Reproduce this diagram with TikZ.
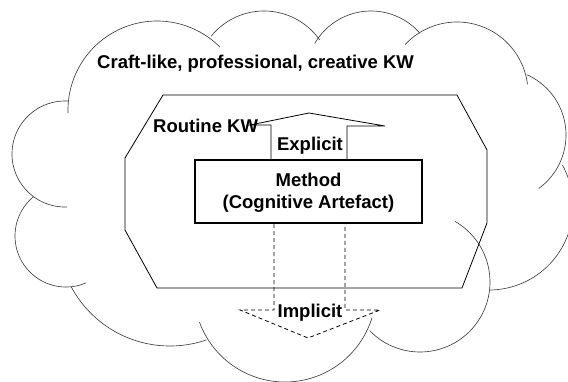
\documentclass[tikz,border=0pt]{standalone}
\usepackage{fontspec}
\setmainfont{Liberation Sans}
\usetikzlibrary{calc}
\tikzset{
  cloudline/.style={draw=black!75, line width=0.65pt},
  octo/.style={draw=black, line width=0.8pt, line join=miter},
  blockarrow/.style={draw=black, line width=0.8pt, line join=miter},
  dashline/.style={dash pattern=on 4pt off 3pt},
  lbl/.style={font=\bfseries\fontsize{18.5}{22}\selectfont, inner sep=0pt},
  methodbox/.style={draw=black, line width=2pt, minimum width=227pt, minimum height=63pt, inner sep=0pt},
  methodtext/.style={align=center, inner sep=0pt, font=\bfseries\fontsize{18.5}{22}\selectfont}
}
\begin{document}
\begin{tikzpicture}[x=1pt,y=-1pt]
\path[use as bounding box] (0,0) rectangle (568,381);
\clip (0,0) rectangle (568,381);
% cloud lobes: centre x / centre y / radius / start angle / end angle
\foreach \cx/\cy/\r/\a/\b in {
  157/110/89/178/315,
  264/79/68/219/325,
  371/76/65/210/319,
  457/93/71/223/353,
  500/135/66/294/414,
  489/206/84/-29/89,
  420/282/70/-60/136,
  285/291/91/17/160,
  170/234/112/71/152,
  66/236/51/67/230,
  65/154/53/88/273}
  \draw[cloudline] plot[domain=\a:\b, samples=80] ({\cx+\r*cos(\x)},{\cy+\r*sin(\x)});
% routine KW region (octagon)
\draw[octo] (163,95) -- (457,95) -- (487,150) -- (487,223) -- (462,288)
  -- (157,288) -- (125,230) -- (125,158) -- cycle;
% method box
\node[methodbox] (method) at (308.5,191.5) {};
\node[methodtext] (methodlabel) at (308.5,192.7) {Method\\(Cognitive Artefact)};
% explicit arrow (up)
\draw[blockarrow] ([xshift=-37.5pt]method.north) -- ++(0,-34) -- (250,125)
  -- (309,113) -- (385,126) -- (347,126) -- ([xshift=38.5pt]method.north);
% implicit arrow (down, dashed)
\draw[blockarrow, dashline] ([xshift=-34.5pt]method.south) -- (274,310) -- (240,310)
  -- (308,338) -- (380,310) -- (345,310) -- ([xshift=36.5pt]method.south);
% labels
\node[lbl, anchor=base west] (craft) at (97,68.5) {Craft-like, professional, creative KW};
\node[lbl, anchor=base west] (routine) at (153,132) {Routine KW};
\node[lbl, anchor=base] (explicit) at (310,150.5) {Explicit};
\node[lbl, anchor=base] (implicit) at (310,317) {Implicit};
\end{tikzpicture}
\end{document}
